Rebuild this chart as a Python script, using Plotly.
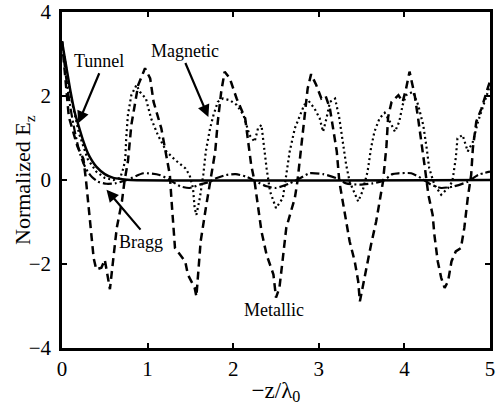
import plotly.graph_objects as go

# ---------------- data ----------------
tunnel_x = [0, 0.05, 0.1, 0.15, 0.2, 0.25, 0.3, 0.35, 0.4, 0.5, 0.6, 0.7, 0.8, 5.0]
tunnel_y = [3.3, 2.7, 2.1, 1.6, 1.25, 0.92, 0.65, 0.46, 0.32, 0.14, 0.05, 0.02, 0.0, 0.0]

bragg_x = [0, 0.05, 0.1, 0.15, 0.2, 0.25, 0.3, 0.35, 0.42, 0.52, 0.62, 0.76, 0.95, 1.14,
           1.26, 1.38, 1.49, 1.61, 1.73, 1.80, 1.92, 2.03, 2.15, 2.27, 2.39, 2.5, 2.66,
           2.78, 2.89, 3.05, 3.21, 3.32, 3.48, 3.63, 3.75, 3.86, 3.93, 4.08, 4.20, 4.31,
           4.43, 4.58, 4.74, 4.86, 5.0]
bragg_y = [3.3, 2.4, 1.7, 1.15, 0.7, 0.4, 0.2, 0.07, -0.04, -0.09, -0.08, 0.0, 0.16, 0.12,
           0.0, -0.15, -0.19, -0.11, -0.04, 0.04, 0.12, 0.14, 0.08, -0.04, -0.15, -0.19, -0.08,
           0.04, 0.16, 0.14, 0.04, -0.08, -0.11, -0.08, -0.02, 0.14, 0.16, 0.16, 0.04, -0.11,
           -0.19, -0.15, -0.04, 0.12, 0.2]

metallic_x = [0, 0.08, 0.18, 0.25, 0.28, 0.33, 0.37, 0.40, 0.46, 0.50, 0.53, 0.56, 0.60,
              0.64, 0.70, 0.73, 0.77, 0.81, 0.89, 0.97, 1.03, 1.07, 1.16, 1.22, 1.26, 1.28,
              1.30, 1.32, 1.38, 1.44, 1.47, 1.55, 1.57, 1.59, 1.62, 1.68, 1.74, 1.79, 1.82,
              1.86, 1.90, 1.96, 2.04, 2.09, 2.14, 2.17, 2.21, 2.25, 2.29, 2.33, 2.39, 2.47,
              2.50, 2.54, 2.58, 2.62, 2.68, 2.72, 2.75, 2.79, 2.83, 2.87, 2.91, 2.97, 3.03,
              3.08, 3.13, 3.17, 3.21, 3.24, 3.28, 3.32, 3.36, 3.42, 3.46, 3.48, 3.51, 3.55,
              3.61, 3.67, 3.71, 3.75, 3.79, 3.81, 3.85, 3.93, 3.98, 4.02, 4.06, 4.12, 4.16,
              4.20, 4.24, 4.28, 4.33, 4.35, 4.39, 4.43, 4.47, 4.51, 4.55, 4.60, 4.66, 4.70,
              4.74, 4.78, 4.80, 4.84, 4.90, 4.96, 5.0]
metallic_y = [3.3, 1.5, 0.8, 0.5, 0.0, -1.14, -1.86, -2.13, -2.09, -1.9, -2.3, -2.6, -1.86,
              -1.14, -0.51, -0.03, 0.44, 1.31, 2.26, 2.66, 2.42, 1.86, 1.23, 0.6, 0.12, -0.5,
              -1.14, -1.62, -1.78, -1.94, -2.25, -2.57, -2.77, -2.25, -1.46, -0.67, 0.04, 0.68, 1.39,
              2.1, 2.58, 2.42, 1.94, 1.7, 1.47, 0.99, 0.36, -0.04, -0.67, -1.22, -1.78, -2.25,
              -2.8, -2.57, -1.86, -1.14, -0.71, -0.43, -0.04, 0.68, 1.55, 2.18, 2.52, 2.26, 1.94,
              2.0, 1.7, 1.23, 0.68, -0.04, -0.51, -1.06, -1.46, -1.94, -2.41, -2.89, -2.57, -2.1,
              -1.54, -0.99, -0.51, -0.04, 0.8, 1.5, 1.86, 2.02, 1.86, 2.18, 2.58, 2.02, 1.47,
              0.91, 0.28, -0.35, -0.83, -1.3, -1.94, -2.33, -2.57, -2.41, -1.94, -1.7, -1.62, -1.14,
              -0.43, 0.12, 0.76, 1.39, 1.7, 2.1, 2.35]

magnetic_x = [0, 0.1, 0.2, 0.3, 0.4, 0.5, 0.6, 0.68, 0.72, 0.74, 0.75, 0.77, 0.81, 0.87,
              0.91, 0.98, 1.04, 1.12, 1.22, 1.32, 1.44, 1.49, 1.53, 1.55, 1.57, 1.61, 1.65,
              1.68, 1.73, 1.77, 1.82, 1.88, 1.96, 2.04, 2.12, 2.19, 2.25, 2.29, 2.33, 2.35,
              2.39, 2.43, 2.5, 2.58, 2.62, 2.66, 2.72, 2.78, 2.83, 2.89, 2.95, 3.01, 3.05,
              3.09, 3.13, 3.19, 3.24, 3.28, 3.32, 3.36, 3.42, 3.46, 3.51, 3.57, 3.61, 3.65,
              3.71, 3.77, 3.83, 3.89, 3.94, 3.98, 4.02, 4.10, 4.16, 4.22, 4.26, 4.29, 4.35,
              4.43, 4.51, 4.56, 4.60, 4.62, 4.68, 4.74, 4.80, 4.86, 4.91, 4.97, 5.0]
magnetic_y = [3.3, 2.0, 1.1, 0.5, 0.2, 0.05, 0.0, 0.05, 0.3, 0.52, 0.99, 1.55, 2.02, 2.26,
              2.1, 1.94, 1.47, 1.07, 0.68, 0.48, 0.28, 0.12, -0.19, -0.67, -0.83, -0.43, 0.12,
              0.68, 1.23, 1.55, 1.86, 1.94, 1.9, 1.79, 1.55, 1.07, 0.91, 1.23, 1.31, 0.91,
              0.28, -0.27, -0.67, -0.43, 0.12, 0.68, 1.23, 1.55, 1.79, 1.86, 1.7, 1.47, 1.15,
              1.47, 1.86, 1.94, 1.47, 0.91, 0.36, -0.04, -0.35, -0.51, -0.27, 0.2, 0.76, 1.15,
              1.47, 1.6, 1.39, 1.15, 1.39, 1.79, 2.02, 2.1, 1.79, 1.31, 0.76, 0.28, -0.11,
              -0.35, -0.19, -0.04, 0.52, 0.99, 1.07, 0.68, 0.91, 1.39, 1.7, 2.1, 2.25]

x_ticks = [0, 1, 2, 3, 4, 5]
y_ticks = [-4, -2, 0, 2, 4]

FONT = "Liberation Serif, Times New Roman, serif"

fig = go.Figure()
fig.add_trace(go.Scatter(x=tunnel_x, y=tunnel_y, mode="lines", name="Tunnel",
                         line=dict(color="black", width=2.5, shape="spline", smoothing=0.6)))
fig.add_trace(go.Scatter(x=bragg_x, y=bragg_y, mode="lines", name="Bragg",
                         line=dict(color="black", width=2.2, dash="9px,3px,2px,3px",
                                   shape="spline", smoothing=0.6)))
fig.add_trace(go.Scatter(x=magnetic_x, y=magnetic_y, mode="lines", name="Magnetic",
                         line=dict(color="black", width=2.2, dash="2px,3px")))
fig.add_trace(go.Scatter(x=metallic_x, y=metallic_y, mode="lines", name="Metallic",
                         line=dict(color="black", width=2.5, dash="8px,5px")))

# labels with their arrows: (text, head x, head y, tail offset px, anchors)
labelled_arrows = [
    ("Tunnel", 0.19, 1.35, 21, -50, "center", "bottom"),
    ("Magnetic", 1.71, 1.50, -23, -54, "center", "bottom"),
    ("Bragg", 0.52, -0.23, 34, 40, "center", "top"),
]
for txt, hx, hy, ax, ay, xa, ya in labelled_arrows:
    fig.add_annotation(x=hx, y=hy, xref="x", yref="y", text=txt, showarrow=True,
                       ax=ax, ay=ay, xanchor=xa, yanchor=ya,
                       arrowhead=2, arrowsize=1.1, arrowwidth=2.2, arrowcolor="black",
                       font=dict(family=FONT, size=18, color="black"))

fig.add_annotation(x=2.48, y=-3.09, xref="x", yref="y", text="Metallic", showarrow=False,
                   font=dict(family=FONT, size=18, color="black"))

# y-axis title placed as rotated text
fig.add_annotation(x=0, y=0.5, xref="paper", yref="paper", xshift=-38,
                   text="Normalized E<sub>z</sub>", textangle=-90, showarrow=False,
                   xanchor="center", yanchor="middle",
                   font=dict(family=FONT, size=22, color="black"))

axis_common = dict(showline=True, linecolor="black", linewidth=2.5, mirror="ticks",
                   ticks="inside", ticklen=5, tickwidth=2, tickcolor="black",
                   showgrid=False, zeroline=False, automargin=False,
                   ticklabeloverflow="allow",
                   tickfont=dict(family=FONT, size=21, color="black"))

fig.update_xaxes(range=[0, 5], tickvals=x_ticks,
                 title=dict(text="−z/λ<sub>0</sub>", font=dict(family=FONT, size=23, color="black"),
                            standoff=2),
                 **axis_common)
fig.update_yaxes(range=[-4, 4], tickvals=y_ticks, ticklabelstandoff=4, **axis_common)

fig.update_layout(width=500, height=413, margin=dict(l=62, r=10, t=12, b=65),
                  plot_bgcolor="white", paper_bgcolor="white", showlegend=False,
                  font=dict(family=FONT, color="black"))

fig.write_html("out.html", config={"displayModeBar": False},
               post_script="document.body.style.margin='0px';")
